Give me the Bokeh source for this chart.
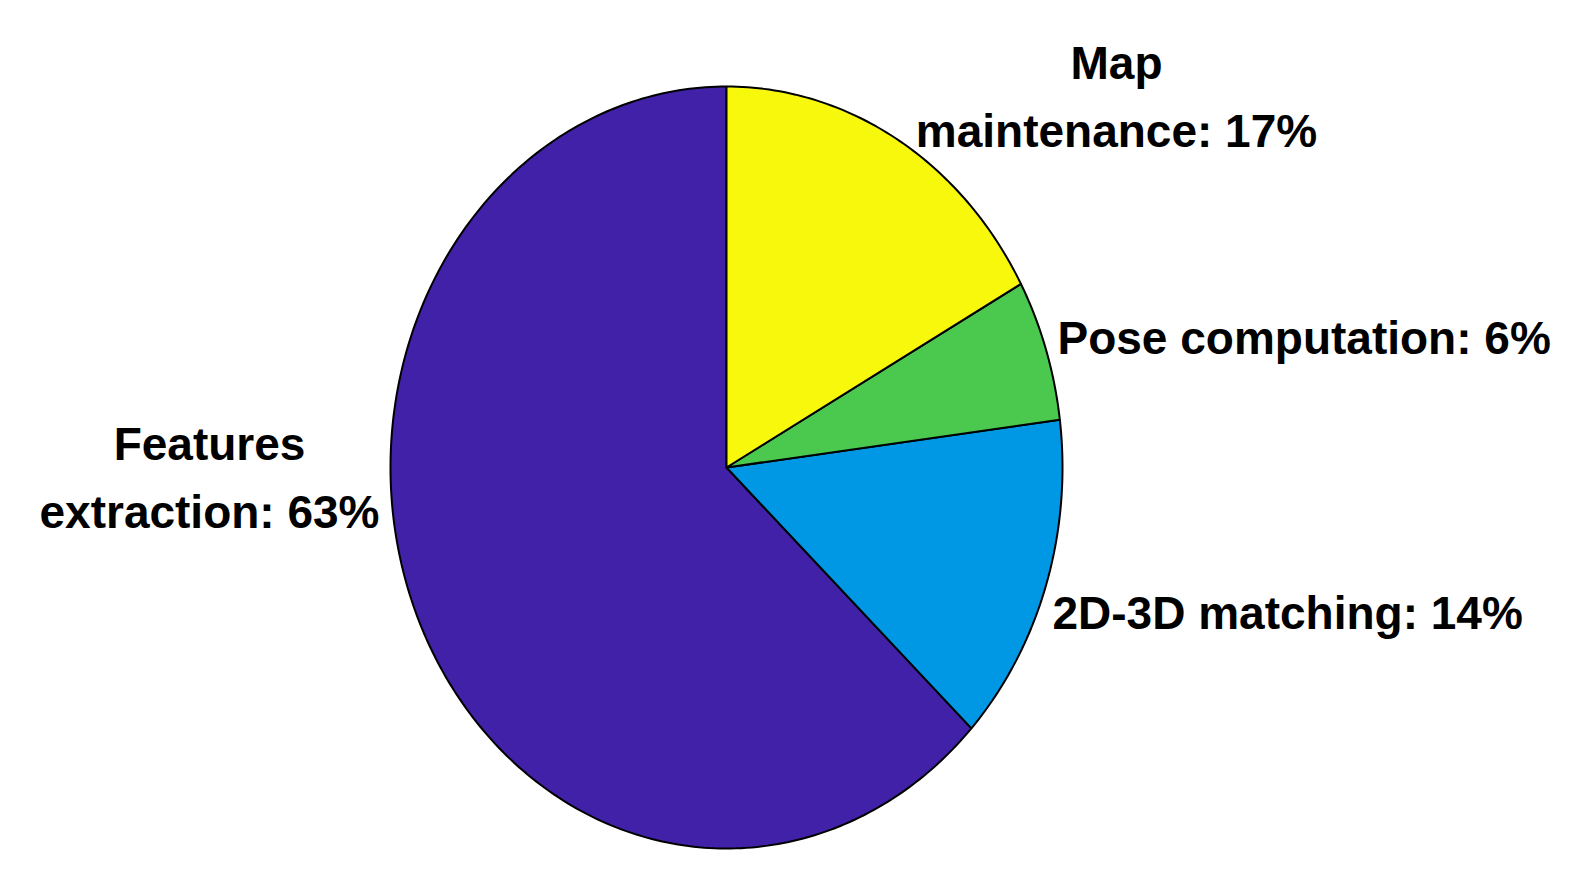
import numpy as np
from bokeh.plotting import figure
from bokeh.models import Range1d, ColumnDataSource
from bokeh.core.properties import value
from bokeh.embed import file_html
from bokeh.resources import INLINE

# ---- data ----
categories = ["Features\nextraction", "2D-3D matching", "Pose computation", "Map\nmaintenance"]
percentages = [63, 14, 6, 17]
colors = ["#4121A7", "#0097E5", "#4BC94F", "#F7F80B"]

# ---- layout ----
W, H = 1580, 868
cx, cy = 726, 467          # pie centre (screen px)
rx, ry = 336, 381          # pie radii (screen px)
# label anchors: (x, first-line baseline y, align)
label_anchor = [
    (209, 443, "center"),
    (1052, 612, "left"),
    (1057, 337, "left"),
    (1116, 62, "center"),
]
line_gap = 68
font_size = "46px"

p = figure(width=W, height=H, output_backend="svg", toolbar_location=None,
           x_range=Range1d(0, W), y_range=Range1d(H, 0),
           min_border=0)
p.axis.visible = False
p.grid.visible = False
p.outline_line_color = None
p.background_fill_color = "white"
p.border_fill_color = "white"

total = float(sum(percentages))
start = np.pi / 2
xs, ys = [], []
for v in percentages:
    sweep = 2 * np.pi * v / total
    t = np.linspace(start, start + sweep, max(int(v * 4), 8))
    xs.append([cx] + list(cx + rx * np.cos(t)) + [cx])
    ys.append([cy] + list(cy - ry * np.sin(t)) + [cy])
    start += sweep

p.patches(xs, ys, fill_color=colors, line_color="black", line_width=2)

tx, ty, tt, ta = [], [], [], []
for name, v, (ax, ay, al) in zip(categories, percentages, label_anchor):
    label = f"{name}: {v}%"
    for i, line in enumerate(label.split("\n")):
        tx.append(ax)
        ty.append(ay + i * line_gap)
        tt.append(line)
        ta.append(al)

src = ColumnDataSource(dict(x=tx, y=ty, text=tt, align=ta))
p.text(x="x", y="y", text="text", source=src, text_align="align",
       text_baseline="alphabetic", text_font=value("Liberation Sans"),
       text_font_style="bold",
       text_font_size=font_size, text_color="black")

open("out.html", "w").write(file_html(p, INLINE))
